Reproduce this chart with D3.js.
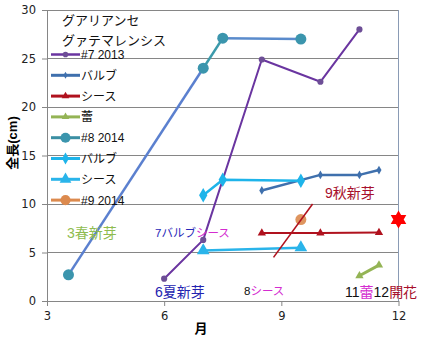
<!DOCTYPE html>
<html><head><meta charset="utf-8">
<script src="https://cdn.jsdelivr.net/npm/d3@7"></script>
<style>
body{margin:0;background:#fff;}
svg{display:block;font-family:"Liberation Sans","Noto Sans CJK JP",sans-serif;}
</style></head>
<body><svg id="c" width="429" height="341"></svg>
<script>
// ---- data ----
const xTicks = [3, 6, 9, 12];
const yTicks = [0, 5, 10, 15, 20, 25, 30];
const titleLines = ["グアリアンセ", "グァテマレンシス"];
const legendLabels = ["#7 2013", "バルブ", "シース", "蕾", "#8 2014", "バルブ", "シース", "#9 2014"];

const months7 = [6.0, 7.0, 8.5, 10.0, 11.0];
const length7 = [2.3, 6.3, 24.9, 22.6, 28.0];
const bulbMonths7 = [8.5, 10.0, 11.0, 11.5];
const bulb7 = [11.4, 13.0, 13.0, 13.5];
const sheathMonths7 = [8.5, 10.0, 11.5];
const sheath7 = [7.0, 7.0, 7.05];
const budMonths7 = [11.0, 11.5];
const bud7 = [2.6, 3.7];

const months8 = [3.55, 7.0, 7.5, 9.5];
const length8 = [2.7, 24.0, 27.1, 27.0];
const bulbMonths8 = [7.0, 7.5, 9.5];
const bulb8 = [10.9, 12.5, 12.4];
const sheathMonths8 = [7.0, 9.5];
const sheath8 = [5.2, 5.5];

const months9 = [9.5];
const length9 = [8.4];

const autumnShootMonths = [8.8, 9.8];
const autumnShoot = [4.5, 10.0];
const bloomMonth = [12];
const bloomValue = [8.4];

// ---- setup ----
const svg = d3.select("#c");
const x = d3.scaleLinear().domain([3, 12]).range([47, 398.5]);
const y = d3.scaleLinear().domain([0, 30]).range([301, 10]);
const zip = (ms, vs) => ms.map((m, i) => ({m, v: vs[i]}));
const line = d3.line().x(d => x(d.m)).y(d => y(d.v));

// gridlines
svg.append("g").selectAll("line").data(yTicks.filter(t => t > 0)).join("line")
  .attr("x1", x(3)).attr("x2", x(12)).attr("y1", d => y(d)).attr("y2", d => y(d))
  .attr("stroke", "#868686").attr("stroke-width", 1).attr("shape-rendering", "crispEdges");
// right border
svg.append("line").attr("x1", x(12)).attr("x2", x(12)).attr("y1", y(30)).attr("y2", y(0))
  .attr("stroke", "#8a9bb5").attr("stroke-width", 1).attr("shape-rendering", "crispEdges");

// axes
const gx = svg.append("g").attr("transform", `translate(0,${y(0)})`)
  .call(d3.axisBottom(x).tickValues(xTicks).tickSize(5).tickPadding(6).tickSizeOuter(0));
const gy = svg.append("g").attr("transform", `translate(${x(3)},0)`)
  .call(d3.axisLeft(y).tickValues(yTicks).tickSize(5).tickPadding(6).tickSizeOuter(0));
[gx, gy].forEach(g => {
  g.select(".domain").attr("stroke", "#868686");
  g.selectAll(".tick line").attr("stroke", "#868686");
  g.selectAll("text").attr("font-size", 12).attr("fill", "#222").attr("font-family", "'DejaVu Sans',sans-serif").style("font-size", "11.5px");
});

svg.append("text").attr("x", 201).attr("y", 333).attr("text-anchor", "middle")
  .attr("font-weight", "bold").attr("font-size", 13).text("月");
svg.append("text").attr("transform", "translate(17,143) rotate(-90)").attr("text-anchor", "middle")
  .attr("font-weight", "bold").attr("font-size", 13).text("全長(cm)");

// marker helpers
const sym = (type, size) => d3.symbol().type(type).size(size)();
function drawSeries(data, color, width, mType, mSize, mColor) {
  svg.append("path").datum(data).attr("d", line).attr("fill", "none")
    .attr("stroke", color).attr("stroke-width", width).attr("stroke-linejoin", "round");
  svg.append("g").selectAll("path").data(data).join("path")
    .attr("transform", d => `translate(${x(d.m)},${y(d.v)})`)
    .attr("d", sym(mType, mSize)).attr("fill", mColor || color);
}

// #8 2014 (segments with differing tones)
const d8 = zip(months8, length8);
const segColors8 = ["#5b80cf", "#3c9aab", "#5a8bcc"];
d8.slice(1).forEach((d, i) => {
  svg.append("path").datum([d8[i], d]).attr("d", line).attr("fill", "none")
    .attr("stroke", segColors8[i]).attr("stroke-width", 2.5);
});
svg.append("g").selectAll("circle").data(d8).join("circle")
  .attr("cx", d => x(d.m)).attr("cy", d => y(d.v)).attr("r", 5.5).attr("fill", "#3b95ad");

// #7 series
drawSeries(zip(months7, length7), "#6a35a0", 2, d3.symbolCircle, 30, "#6d4e96");
drawSeries(zip(bulbMonths7, bulb7), "#3f70ad", 2.5, d3.symbolDiamond, 22);
drawSeries(zip(sheathMonths7, sheath7), "#b0121e", 2, d3.symbolTriangle, 30);
drawSeries(zip(budMonths7, bud7), "#94b455", 3, d3.symbolTriangle, 30);

// #8 bulb / sheath
drawSeries(zip(bulbMonths8, bulb8), "#1eb4ea", 2.5, d3.symbolDiamond, 60);
drawSeries(zip(sheathMonths8, sheath8), "#2ab4ea", 2.5, d3.symbolTriangle, 70);

// #9 2014
svg.append("g").selectAll("circle").data(zip(months9, length9)).join("circle")
  .attr("cx", d => x(d.m)).attr("cy", d => y(d.v)).attr("r", 5.5).attr("fill", "#dc8a4e").attr("opacity", 0.9);

// autumn shoot line
svg.append("path").datum(zip(autumnShootMonths, autumnShoot)).attr("d", line)
  .attr("fill", "none").attr("stroke", "#b0121e").attr("stroke-width", 1.6);

// bloom star (hexagram)
const hexPts = d3.range(12).map(i => {
  const a = i * Math.PI / 6;
  const r = i % 2 === 0 ? 9 : 5.2;
  return [r * Math.sin(a), -r * Math.cos(a)];
});
svg.append("g").selectAll("path").data(zip(bloomMonth, bloomValue)).join("path")
  .attr("transform", d => `translate(${x(d.m)},${y(d.v)})`)
  .attr("d", "M" + hexPts.join("L") + "Z").attr("fill", "#ff0000");

// legend
svg.append("g").selectAll("text").data(titleLines).join("text")
  .attr("x", 62).attr("y", (d, i) => 25 + i * 19.5).attr("font-size", 13).attr("fill", "#111").text(d => d);
const legendStyles = [
  {c: "#6a35a0", w: 2.5, t: d3.symbolCircle, s: 25, mc: "#6d4e96"},
  {c: "#3f70ad", w: 3, t: d3.symbolDiamond, s: 14},
  {c: "#b0121e", w: 3, t: d3.symbolTriangle, s: 25},
  {c: "#94b455", w: 3, t: d3.symbolTriangle, s: 25},
  {c: "#3b8fa3", w: 3, t: d3.symbolCircle, s: 80, mc: "#3b95ad"},
  {c: "#1eb4ea", w: 3, t: d3.symbolDiamond, s: 40},
  {c: "#2ab4ea", w: 3, t: d3.symbolTriangle, s: 60},
  {c: "#dc8a4e", w: 3, t: d3.symbolCircle, s: 80}
];
const lg = svg.append("g").selectAll("g").data(legendLabels).join("g")
  .attr("transform", (d, i) => `translate(0,${54.5 + i * 20.8})`);
lg.append("line").attr("x1", 51).attr("x2", 80).attr("stroke", (d, i) => legendStyles[i].c)
  .attr("stroke-width", (d, i) => legendStyles[i].w);
lg.append("path").attr("transform", "translate(65.5,0)")
  .attr("d", (d, i) => sym(legendStyles[i].t, legendStyles[i].s))
  .attr("fill", (d, i) => legendStyles[i].mc || legendStyles[i].c);
lg.append("text").attr("x", 81).attr("y", 4.5).attr("font-size", 12).attr("fill", "#111").text(d => d);

// annotations
function annot(px, py, size, parts) {
  const t = svg.append("text").attr("x", px).attr("y", py).attr("font-size", size);
  parts.forEach(p => t.append("tspan").attr("fill", p[1]).text(p[0]));
}
annot(67, 238, 14, [["3春新芽", "#8fbc4f"]]);
annot(155, 297, 14, [["6夏新芽", "#2424b0"]]);
annot(155, 237, 11.5, [["7バルブ", "#2828b8"], ["シース", "#d42cd0"]]);
annot(244, 295, 11.5, [["8", "#111"], ["シース", "#d42cd0"]]);
annot(325, 198, 14, [["9秋新芽", "#a8102c"]]);
annot(345, 297, 14, [["11", "#111"], ["蕾", "#d42cd0"], ["12", "#111"], ["開花", "#a8102c"]]);
</script></body></html>
